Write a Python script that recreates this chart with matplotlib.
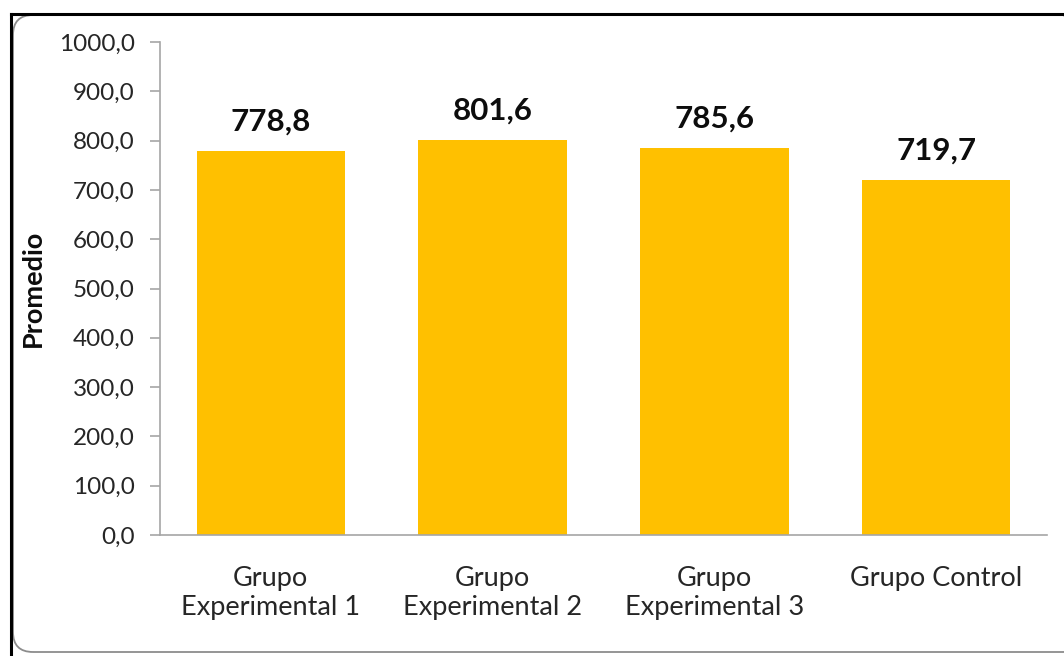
import matplotlib.pyplot as plt
from matplotlib.lines import Line2D
from matplotlib.patches import FancyBboxPatch

categories = ["Grupo\nExperimental 1", "Grupo\nExperimental 2",
              "Grupo\nExperimental 3", "Grupo Control"]
values = [778.8, 801.6, 785.6, 719.7]
y_ticks = [0, 100, 200, 300, 400, 500, 600, 700, 800, 900, 1000]

W, H = 1064, 656
plt.rcParams["font.family"] = ["Lato", "DejaVu Sans"]

fig = plt.figure(figsize=(W / 100, H / 100), dpi=100)
ax = fig.add_axes([160 / W, 1 - 535 / H, (1047 - 160) / W, (535 - 42) / H])

x = range(len(categories))
bars = ax.bar(x, values, width=0.67, color="#FFC000", zorder=2)

for b, v in zip(bars, values):
    ax.annotate(f"{v:.1f}".replace(".", ","),
                (b.get_x() + b.get_width() / 2, v),
                xytext=(0, 11), textcoords="offset points",
                ha="center", va="bottom", fontsize=22.5, fontweight="bold",
                color="#0d0d0d")

ax.set_xlim(-0.5, len(categories) - 0.5)
ax.set_ylim(0, 1000)
ax.set_yticks(y_ticks)
ax.set_yticklabels([f"{t:.1f}".replace(".", ",") for t in y_ticks],
                   fontsize=17.5, color="#262626")
ax.set_xticks(list(x))
ax.set_xticklabels(categories, fontsize=19.5, color="#262626",
                   linespacing=1.2)
ax.tick_params(axis="x", length=0, pad=22)
ax.tick_params(axis="y", length=7, color="#a6a6a6", width=1.2, pad=11)

for s in ["top", "right"]:
    ax.spines[s].set_visible(False)
for s in ["left", "bottom"]:
    ax.spines[s].set_color("#a6a6a6")
    ax.spines[s].set_linewidth(1.2)

ax.set_ylabel("Promedio", fontsize=19.5, fontweight="bold", color="#0d0d0d",
              labelpad=10)

# screenshot frame and rounded chart border
fig.add_artist(Line2D([11 / W, 11 / W], [0, 1 - 14 / H], color="black",
                      lw=2.2, transform=fig.transFigure))
fig.add_artist(Line2D([11 / W, 1], [1 - 14 / H, 1 - 14 / H], color="black",
                      lw=2.2, transform=fig.transFigure))
fig.add_artist(FancyBboxPatch((13, 4), 1070, 637,
                              boxstyle="round,pad=0,rounding_size=20",
                              transform=None, fill=False,
                              edgecolor="#8c8c8c", lw=1.3))

fig.savefig("out.png", dpi=100)
